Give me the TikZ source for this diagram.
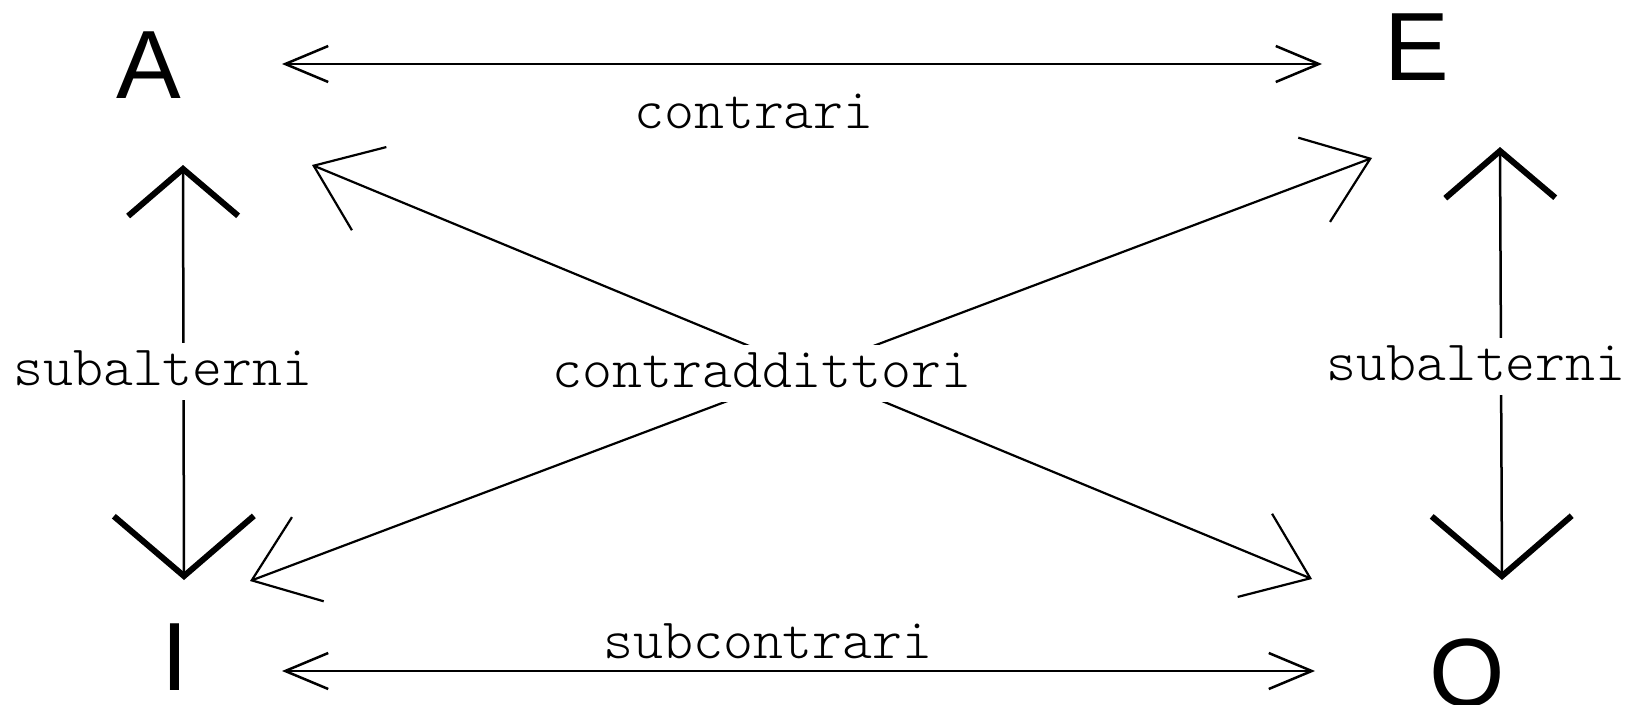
\documentclass[tikz,border=0pt]{standalone}
\usepackage{fontspec}
\setmainfont{Liberation Sans}
\newfontfamily\labfont{Latin Modern Mono Light}
\usetikzlibrary{arrows.meta}
\begin{document}
\begin{tikzpicture}[x=1pt,y=-1pt,
  letter/.style={font=\fontsize{97}{97}\selectfont, inner sep=0pt, anchor=base},
  lab/.style={font=\labfont\fontsize{57}{57}\selectfont, inner xsep=2pt, inner ysep=12pt, text height=30pt, text depth=3pt, anchor=base},
  blab/.style={lab, fill=white},
  hline/.style={line width=2.5pt},
  dline/.style={line width=2.2pt},
  hhead/.tip={Straight Barb[length=43pt,width=36pt,line width=2.5pt]},
  vheadA/.tip={Straight Barb[length=47pt,width=110pt,line width=6pt]},
  vheadB/.tip={Straight Barb[length=60pt,width=140pt,line width=6pt]},
  dhead/.tip={Straight Barb[length=60pt,width=90pt,line width=2.2pt]}
]
\fill[white] (0,0) rectangle (1627,704);
\useasboundingbox (0,0) rectangle (1627,704);
% letters
\node[letter] (A) at (149,98) {A};
\node[letter] (E) at (1417,80) {E};
\node[letter] (I) at (175,690) {I};
\node[letter] (O) at (1467,706) {O};
% arrow end points
\coordinate (AEa) at (282,64);
\coordinate (AEb) at (1322,64);
\coordinate (IOa) at (282,671);
\coordinate (IOb) at (1315,671);
\coordinate (AIa) at (183,165);
\coordinate (AIb) at (184,580);
\coordinate (EOa) at (1500,147);
\coordinate (EOb) at (1502,580);
\coordinate (AOa) at (312,165);
\coordinate (AOb) at (1312,579);
\coordinate (EIa) at (1372,158);
\coordinate (EIb) at (250,581);
% connectors
\draw[hline, {hhead}-{hhead}] (AEa) -- (AEb);
\draw[hline, {hhead}-{hhead}] (IOa) -- (IOb);
\draw[hline, {vheadA}-{vheadB}] (AIa) -- (AIb);
\draw[hline, {vheadA}-{vheadB}] (EOa) -- (EOb);
\draw[dline, {dhead}-{dhead}] (AOa) -- (AOb);
\draw[dline, {dhead}-{dhead}] (EIa) -- (EIb);
% labels
\node[lab] (contrari) at (754,128) {contrari};
\node[blab] (subL) at (163,385) {subalterni};
\node[blab] (subR) at (1476,380) {subalterni};
\node[lab] (subc) at (768,658) {subcontrari};
\node[blab] (contrad) at (762,387) {contraddittori};
\end{tikzpicture}
\end{document}
